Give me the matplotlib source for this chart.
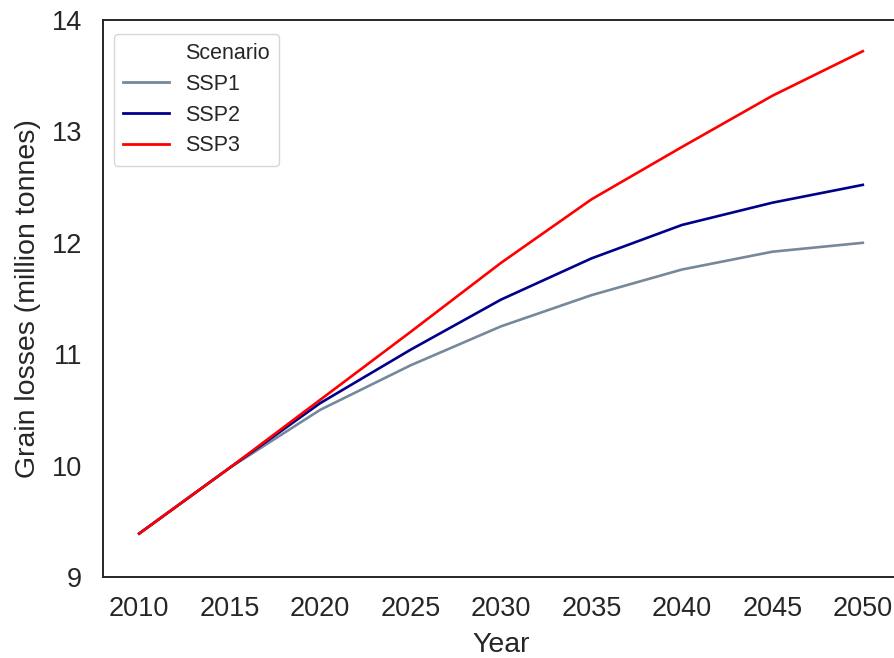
import matplotlib
matplotlib.use("Agg")
import matplotlib.pyplot as plt
from matplotlib.lines import Line2D

years = [2010, 2015, 2020, 2025, 2030, 2035, 2040, 2045, 2050]
ssp1 = [9.39, 9.98, 10.50, 10.90, 11.25, 11.53, 11.76, 11.92, 12.00]
ssp2 = [9.39, 9.98, 10.56, 11.04, 11.49, 11.86, 12.16, 12.36, 12.52]
ssp3 = [9.39, 9.98, 10.59, 11.20, 11.82, 12.39, 12.86, 13.32, 13.72]
scenarios = ["SSP1", "SSP2", "SSP3"]
colors = ["#778899", "#00008B", "#FF0000"]
y_ticks = [9, 10, 11, 12, 13, 14]

plt.rcParams["font.family"] = ["Liberation Sans", "DejaVu Sans"]

fig = plt.figure(figsize=(8.94, 6.58), dpi=100)
ax = fig.add_axes([103 / 894, 1 - 577 / 658, 796 / 894, 557 / 658])

for vals, name, col in zip([ssp1, ssp2, ssp3], scenarios, colors):
    ax.plot(years, vals, color=col, lw=1.9, label=name)

ax.set_xlim(2008, 2052)
ax.set_ylim(9, 14)
ax.set_xticks(years)
ax.set_yticks(y_ticks)
ax.tick_params(axis="both", labelsize=19.5, length=0, colors="#262626")
ax.tick_params(axis="y", pad=15)
ax.tick_params(axis="x", pad=14)
ax.set_xlabel("Year", fontsize=20.5, color="#262626", labelpad=7)
ax.set_ylabel("Grain losses (million tonnes)", fontsize=20.5, color="#262626", labelpad=8)
for s in ax.spines.values():
    s.set_color("#262626")
    s.set_linewidth(1.4)

handles = [Line2D([], [], color="none")] + [
    Line2D([], [], color=c, lw=2.0) for c in colors
]
labels = ["Scenario"] + scenarios
leg = ax.legend(handles, labels, loc="upper left", fontsize=15.5,
                frameon=True, fancybox=True, borderpad=0.45,
                handlelength=2.1, handletextpad=0.75, labelspacing=0.45,
                bbox_to_anchor=(0.0, 0.995))
leg.get_frame().set_edgecolor("#cccccc")
leg.get_texts()[0].set_fontsize(15.5)
for t in leg.get_texts():
    t.set_color("#262626")

fig.savefig("out.png", dpi=100)
